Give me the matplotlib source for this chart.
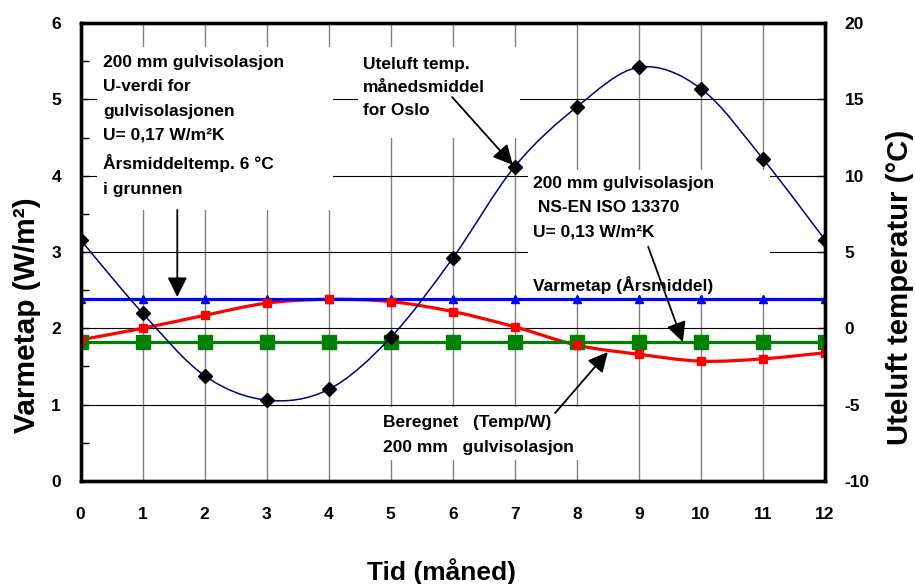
import numpy as np
import matplotlib
matplotlib.use("Agg")
import matplotlib.pyplot as plt
from matplotlib.path import Path
from matplotlib.patches import PathPatch, Rectangle

plt.rcParams['font.family'] = ['Liberation Sans', 'DejaVu Sans']
plt.rcParams['font.weight'] = 'bold'
plt.rcParams['axes.unicode_minus'] = False

# data
months = [0, 1, 2, 3, 4, 5, 6, 7, 8, 9, 10, 11, 12]
temp_oslo = [5.8, 1.0, -3.1, -4.7, -4.0, -0.6, 4.6, 10.6, 14.5, 17.1, 15.7, 11.1, 5.8]
varmetap_beregnet = [1.85, 2.0, 2.17, 2.33, 2.38, 2.35, 2.22, 2.02, 1.78, 1.66, 1.57, 1.60, 1.68]
varmetap_aarsmiddel = [2.38] * 13
varmetap_iso = [1.82] * 13

x_ticks = months
left_ticks = [0, 1, 2, 3, 4, 5, 6]
right_ticks = [-10, -5, 0, 5, 10, 15, 20]


def smooth_path(xs, ys):
    # excel-like smoothed line: bezier segments through the points
    pts = np.column_stack([xs, ys]).astype(float)
    n = len(pts)
    verts = [tuple(pts[0])]
    codes = [Path.MOVETO]
    for i in range(n - 1):
        p0 = pts[i - 1] if i > 0 else pts[i]
        p1 = pts[i]
        p2 = pts[i + 1]
        p3 = pts[i + 2] if i + 2 < n else pts[i + 1]
        c1 = p1 + (p2 - p0) / 6
        c2 = p2 - (p3 - p1) / 6
        verts += [tuple(c1), tuple(c2), tuple(p2)]
        codes += [Path.CURVE4] * 3
    return Path(verts, codes)


fig = plt.figure(figsize=(9.15, 5.84), dpi=100)
ax = fig.add_axes([0.088, 0.1764, 0.8136, 0.7842])
ax2 = ax.twinx()

# grid
for m in months:
    ax.axvline(m, color='#808080', lw=1.0, zorder=0)
for v in left_ticks:
    ax.axhline(v, color='black', lw=0.8, zorder=0)

ax.add_patch(PathPatch(smooth_path(months, varmetap_beregnet), fc='none', ec='#FF0000', lw=2.3, zorder=3))
ax.plot(months, varmetap_beregnet, ls='none', marker='s', ms=5.5, color='#FF0000', zorder=4)
ax.plot(months, varmetap_aarsmiddel, color='#0000FF', lw=2.3, marker='^', ms=6, zorder=3)
ax.plot(months, varmetap_iso, color='#008000', lw=2.3, marker='s', ms=9.5, zorder=3)

ax2.add_patch(PathPatch(smooth_path(months, temp_oslo), fc='none', ec='#000080', lw=1.1, zorder=3))
ax2.plot(months, temp_oslo, ls='none', marker='D', ms=7.5, color='black', zorder=4)

ax.set_xlim(0, 12)
ax.set_ylim(0, 6)
ax2.set_ylim(-10, 20)
ax.set_xticks(x_ticks)
ax.set_yticks(left_ticks)
ax.set_yticks(np.arange(0.5, 6, 1.0), minor=True)
ax2.set_yticks(right_ticks)

ax.tick_params(axis='x', length=0, pad=19, labelsize=12.5)
ax.tick_params(axis='y', which='both', direction='in', length=6, width=1, pad=14, labelsize=12.5)
ax2.tick_params(axis='y', direction='in', length=6, width=1, pad=14, labelsize=12.5)
for a in (ax, ax2):
    for s in a.spines.values():
        s.set_linewidth(2.4)

fig.text(0.029, 0.46, 'Varmetap (W/m²)', rotation=90, ha='center', va='center', fontsize=21.5)
fig.text(0.984, 0.508, 'Uteluft temperatur (°C)', rotation=90, ha='center', va='center', fontsize=21.2)
fig.text(0.482, 0.022, 'Tid (måned)', ha='center', va='center', fontsize=19)

# white text boxes, drawn in left-axis data units on the top axes
tr = ax.transData
boxes = [(0.27, 3.55, 3.8, 2.14), (4.47, 4.49, 2.61, 1.2),
         (7.21, 2.44, 3.9, 1.63), (4.70, 0.28, 3.35, 0.69)]
for bx, by, bw, bh in boxes:
    ax2.add_patch(Rectangle((bx, by), bw, bh, transform=tr, fc='white', ec='none', zorder=1))

txt = dict(transform=tr, fontsize=12.5, ha='left', va='top', linespacing=1.77, zorder=2)
ax2.text(0.36, 5.58, '200 mm gulvisolasjon\nU-verdi for\ngulvisolasjonen\nU= 0,17 W/m²K\nÅrsmiddeltemp. 6 °C\ni grunnen', **txt)
ax2.text(4.55, 5.555, 'Uteluft temp.\nmånedsmiddel\nfor Oslo', **dict(txt, linespacing=1.66))
ax2.text(7.30, 4.00, '200 mm gulvisolasjon\n NS-EN ISO 13370\nU= 0,13 W/m²K', **txt)
ax2.text(7.30, 2.69, 'Varmetap (Årsmiddel)', **txt)
ax2.text(4.88, 0.86, 'Beregnet   (Temp/W)\n200 mm   gulvisolasjon', **txt)

arrow = dict(arrowstyle='-|>', color='black', lw=1.3, mutation_scale=30, shrinkA=0, shrinkB=0)
arrows = [((1.56, 3.55), (1.56, 2.41)), ((5.99, 5.03), (6.97, 4.14)),
          ((9.15, 3.07), (9.71, 1.82)), ((7.65, 0.89), (8.50, 1.69))]
for start, tip in arrows:
    ax2.annotate('', xy=tip, xytext=start, xycoords=tr, textcoords=tr,
                 arrowprops=arrow, zorder=5)

fig.savefig('out.png', dpi=100)
